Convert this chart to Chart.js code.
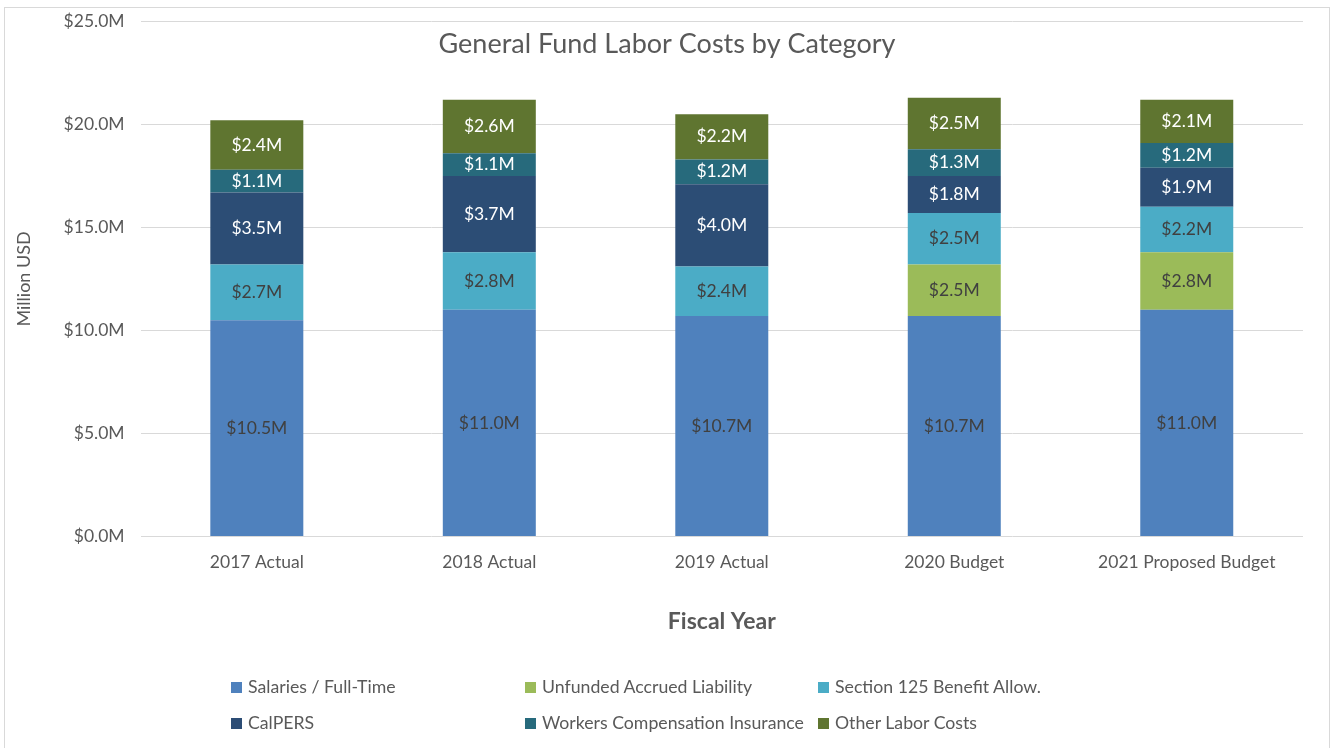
<!DOCTYPE html>
<html>
<head>
<meta charset="utf-8">
<script src="https://cdn.jsdelivr.net/npm/chart.js@4/dist/chart.umd.min.js"></script>
<style>
  body { margin: 0; background: #fff; font-family: Lato, "Open Sans", sans-serif; overflow: hidden; }
  #frame { position: absolute; left: 4px; top: 7px; width: 1324px; height: 780px; border: 1px solid #d9d9d9; }
  #wrap { position: absolute; left: 0; top: -13px; width: 1324px; height: 753px; }
  #legend { position: absolute; left: 0; top: 0; width: 1324px; height: 740px; pointer-events: none; }
  .item { position: absolute; font-size: 17.7px; color: #595959; white-space: nowrap; line-height: 20px; }
  .box { display: inline-block; width: 11px; height: 11px; margin-right: 6px; vertical-align: 0px; }
</style>
</head>
<body>
<div id="frame">
  <div id="wrap"><canvas id="laborChart"></canvas></div>
  <div id="legend"></div>
</div>
<script>
// values in million USD
const years = ["2017 Actual", "2018 Actual", "2019 Actual", "2020 Budget", "2021 Proposed Budget"];
const salaries = [10.5, 11.0, 10.7, 10.7, 11.0];
const unfunded = [null, null, null, 2.5, 2.8];
const section125 = [2.7, 2.8, 2.4, 2.5, 2.2];
const calpers = [3.5, 3.7, 4.0, 1.8, 1.9];
const workersComp = [1.1, 1.1, 1.2, 1.3, 1.2];
const otherLabor = [2.4, 2.6, 2.2, 2.5, 2.1];
const yTicks = [0, 5, 10, 15, 20, 25];

const series = [
  { label: "Salaries / Full-Time", data: salaries, color: "#4f81bd", text: "#404040" },
  { label: "Unfunded Accrued Liability", data: unfunded, color: "#9bbb59", text: "#404040" },
  { label: "Section 125 Benefit Allow.", data: section125, color: "#4bacc6", text: "#404040" },
  { label: "CalPERS", data: calpers, color: "#2c4d75", text: "#ffffff" },
  { label: "Workers Compensation Insurance", data: workersComp, color: "#276a7c", text: "#ffffff" },
  { label: "Other Labor Costs", data: otherLabor, color: "#5f7530", text: "#ffffff" },
];

const fontFamily = "Lato, 'Open Sans', sans-serif";

// segment labels in the middle of each stacked piece
const segmentLabels = {
  id: "segmentLabels",
  afterDatasetsDraw(chart) {
    const ctx = chart.ctx;
    ctx.save();
    ctx.font = "17.5px " + fontFamily;
    ctx.textAlign = "center";
    ctx.textBaseline = "middle";
    chart.data.datasets.forEach((ds, i) => {
      const meta = chart.getDatasetMeta(i);
      meta.data.forEach((bar, j) => {
        const v = ds.data[j];
        if (v == null || v === 0) return;
        ctx.fillStyle = series[i].text;
        ctx.fillText("$" + v.toFixed(1) + "M", bar.x, (bar.y + bar.base) / 2);
      });
    });
    ctx.restore();
  },
};

// title sits inside the plot area, like the original
const innerTitle = {
  id: "innerTitle",
  afterDraw(chart) {
    const ctx = chart.ctx;
    ctx.save();
    ctx.font = "27px " + fontFamily;
    ctx.fillStyle = "#595959";
    ctx.textAlign = "center";
    ctx.textBaseline = "middle";
    ctx.fillText("General Fund Labor Costs by Category", chart.width / 2, 49);
    ctx.restore();
  },
};

const ctx = document.getElementById("laborChart").getContext("2d");
new Chart(ctx, {
  type: "bar",
  data: {
    labels: years,
    datasets: series.map((s) => ({
      label: s.label,
      data: s.data,
      backgroundColor: s.color,
      borderWidth: 0,
      barPercentage: 0.4,
      categoryPercentage: 1.0,
    })),
  },
  options: {
    responsive: true,
    maintainAspectRatio: false,
    animation: false,
    layout: { padding: { top: 0, left: 8, right: 26, bottom: 113 } },
    plugins: {
      legend: { display: false },
      tooltip: { enabled: false },
    },
    scales: {
      x: {
        stacked: true,
        grid: { display: false },
        border: { display: false },
        ticks: { color: "#595959", font: { family: fontFamily, size: 17.5 }, padding: 7 },
        title: {
          display: true,
          text: "Fiscal Year",
          color: "#595959",
          font: { family: fontFamily, size: 23, weight: "bold" },
          padding: { top: 28, bottom: 0 },
        },
      },
      y: {
        stacked: true,
        min: 0,
        max: 25,
        afterBuildTicks: (axis) => { axis.ticks = yTicks.map((v) => ({ value: v })); },
        grid: { color: "#d9d9d9", drawTicks: false },
        border: { display: false },
        ticks: {
          color: "#595959",
          font: { family: fontFamily, size: 17.5 },
          padding: 16,
          callback: (v) => "$" + Number(v).toFixed(1) + "M",
        },
        title: {
          display: true,
          text: "Million USD",
          color: "#595959",
          font: { family: fontFamily, size: 18 },
          padding: { top: 0, bottom: 13 },
        },
      },
    },
  },
  plugins: [segmentLabels, innerTitle],
});

// legend laid out in three fixed columns
const legendEl = document.getElementById("legend");
const cols = [226, 520, 813];
const rows = [669, 705];
series.forEach((s, i) => {
  const d = document.createElement("div");
  d.className = "item";
  d.style.left = cols[i % 3] + "px";
  d.style.top = rows[Math.floor(i / 3)] + "px";
  d.innerHTML = '<span class="box" style="background:' + s.color + '"></span>' + s.label;
  legendEl.appendChild(d);
});
</script>
</body>
</html>
